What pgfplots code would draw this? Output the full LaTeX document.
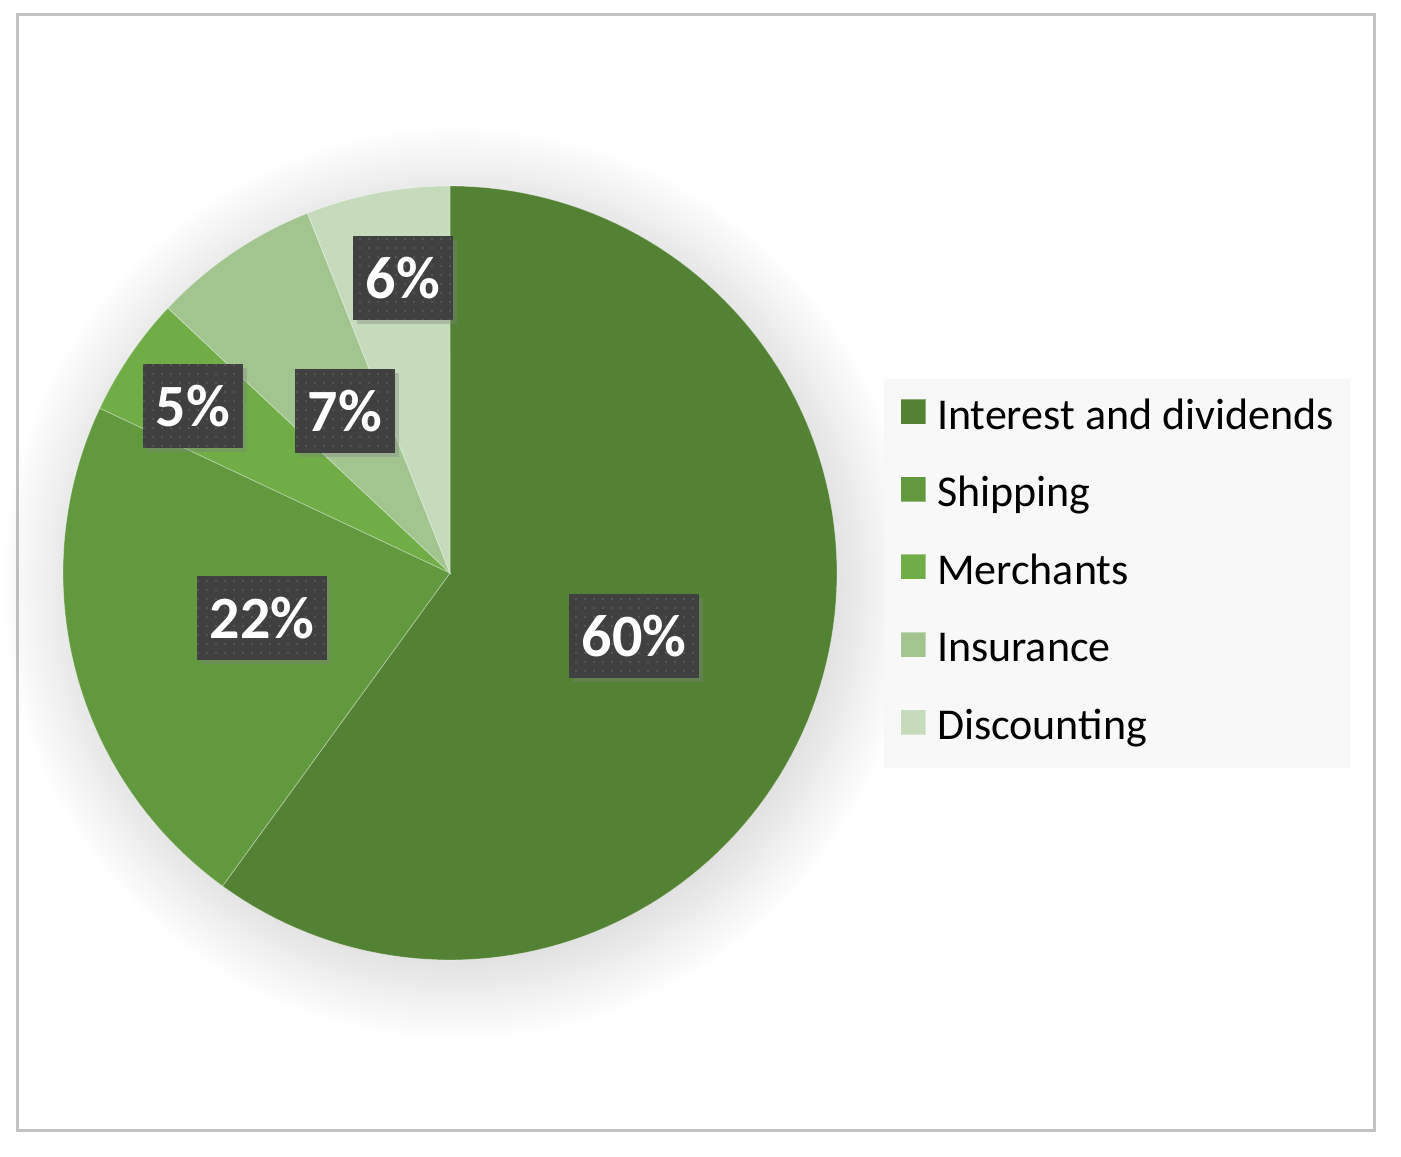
\documentclass[border=0pt]{standalone}
\usepackage{fontspec}
\setmainfont{Carlito}
\usepackage{pgfplots}
\pgfplotsset{compat=1.18}
\usetikzlibrary{patterns.meta,shadows,fadings}
\definecolor{cInt}{HTML}{548235}
\definecolor{cShip}{HTML}{62993E}
\definecolor{cMer}{HTML}{70AD47}
\definecolor{cIns}{HTML}{A2C590}
\definecolor{cDis}{HTML}{C5DBBB}
\definecolor{lblbg}{HTML}{404040}
\definecolor{lbldot}{HTML}{5C5C5C}
\definecolor{legbg}{HTML}{F8F8F8}
\definecolor{framec}{HTML}{C3C3C3}
\tikzset{lbl/.style={fill=lblbg, text=white, inner xsep=13pt, minimum height=84pt,
  font=\fontsize{60}{60}\selectfont\bfseries,
  drop shadow={shadow xshift=4pt, shadow yshift=-4pt, opacity=0.35},
  postaction={pattern={Dots[radius=1.2pt,distance=9pt]}, pattern color=lbldot}}}
\begin{document}
\begin{tikzpicture}
\useasboundingbox (0,0) rectangle (1401pt,1157pt);
\begin{axis}[x=1pt, y=1pt, xmin=0, xmax=1401, ymin=0, ymax=1157,
  at={(0pt,0pt)}, anchor=south west, hide axis, clip=false,
  legend cell align=left,
  legend image code/.code={\fill[#1] (0pt,-6pt) rectangle (25pt,19pt);},
  legend style={draw=none, fill=legbg, at={(axis cs:884,778)}, anchor=north west,
    font=\fontsize{44}{44}\selectfont, inner xsep=16pt, inner ysep=18pt, row sep=35.6pt,
    nodes={inner sep=0pt, text height=32pt, text depth=10pt},
    /tikz/every odd column/.append style={column sep=11pt}},
  every axis plot/.append style={draw=white, draw opacity=0.35, line width=0.8pt, samples=120, variable=\t}]
% frame and soft shadow
\draw[framec, line width=3pt] (axis cs:17,1142) rectangle (axis cs:1374,26);
\fill[black, opacity=0.13, path fading=circle with fuzzy edge 20 percent] (axis cs:458,574) circle[radius=455pt];
% slices: shares 60, 22, 5, 7, 6 (percent), clockwise from 12 o'clock
\addplot[fill=cInt, domain=0:216] ({450+387*sin(\t)},{584+387*cos(\t)}) -- (axis cs:450,584) -- cycle;
\addlegendentry{Interest and dividends}
\addplot[fill=cShip, domain=216:295.2] ({450+387*sin(\t)},{584+387*cos(\t)}) -- (axis cs:450,584) -- cycle;
\addlegendentry{Shipping}
\addplot[fill=cMer, domain=295.2:313.2] ({450+387*sin(\t)},{584+387*cos(\t)}) -- (axis cs:450,584) -- cycle;
\addlegendentry{Merchants}
\addplot[fill=cIns, domain=313.2:338.4] ({450+387*sin(\t)},{584+387*cos(\t)}) -- (axis cs:450,584) -- cycle;
\addlegendentry{Insurance}
\addplot[fill=cDis, domain=338.4:360] ({450+387*sin(\t)},{584+387*cos(\t)}) -- (axis cs:450,584) -- cycle;
\addlegendentry{Discounting}
% data labels
\node[lbl] at (axis cs:634,521) {60\%};
\node[lbl] at (axis cs:262,539) {22\%};
\node[lbl] at (axis cs:193,751) {5\%};
\node[lbl] at (axis cs:345,746) {7\%};
\node[lbl] at (axis cs:403,879) {6\%};
\end{axis}
\end{tikzpicture}
\end{document}
